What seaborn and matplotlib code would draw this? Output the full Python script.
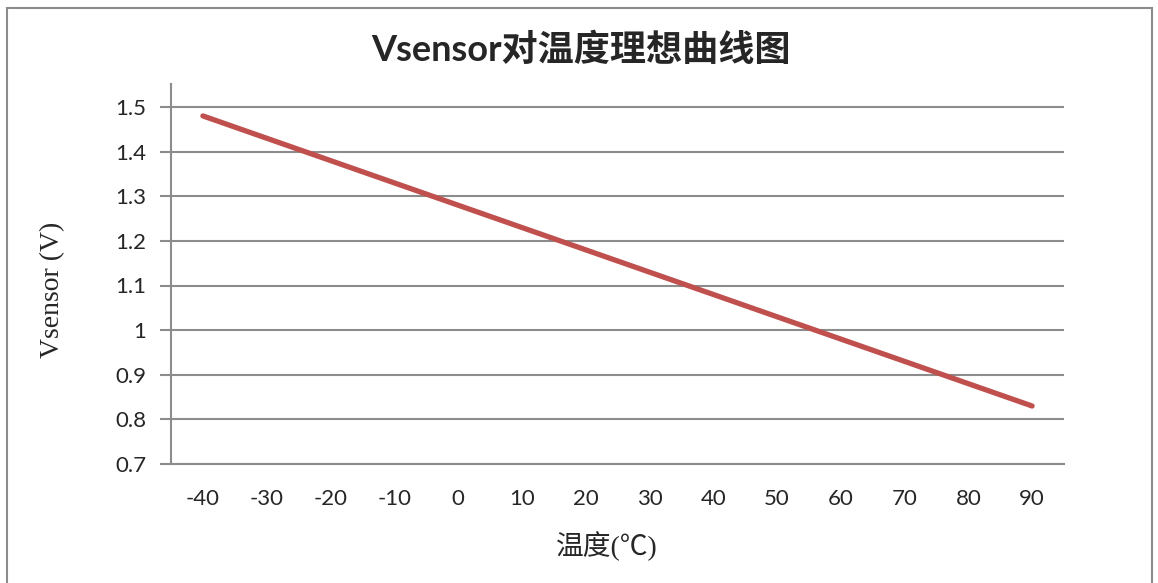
import pandas as pd
import seaborn as sns
import matplotlib.pyplot as plt
from matplotlib.patches import Rectangle
import numpy as np

# temperature categories and ideal sensor voltage
temps = [-40, -30, -20, -10, 0, 10, 20, 30, 40, 50, 60, 70, 80, 90]
vsensor = [1.48, 1.43, 1.38, 1.33, 1.28, 1.23, 1.18, 1.13, 1.08, 1.03, 0.98, 0.93, 0.88, 0.83]
yticks = [0.7, 0.8, 0.9, 1.0, 1.1, 1.2, 1.3, 1.4, 1.5]
ytick_labels = ["0.7", "0.8", "0.9", "1", "1.1", "1.2", "1.3", "1.4", "1.5"]

df = pd.DataFrame({"temp": [str(t) for t in temps], "v": vsensor})

sns.set_style("white")
plt.rcParams['font.family'] = ['Lato', 'Noto Sans CJK SC', 'DejaVu Sans']

grey = "#8c8c8c"

fig = plt.figure(figsize=(11.58, 5.83), dpi=100)
ax = fig.add_axes([171/1158, 1 - 464/583, (1064-171)/1158, (464-84)/583])

sns.lineplot(data=df, x="temp", y="v", color="#C0504D", linewidth=3.8,
             solid_capstyle="round", ax=ax, sort=False)

ax.set_xlim(-0.5, len(temps) - 0.5)
ax.set_ylim(0.7, 0.7 + (464-84) / (464-107) * 0.8)
ax.set_yticks(yticks)
ax.set_yticklabels(ytick_labels)
ax.set_xticks(range(len(temps)))
ax.set_xticklabels([str(t) for t in temps])
ax.set_xticks(np.arange(-0.5, len(temps), 1), minor=True)
ax.tick_params(axis="x", which="major", length=0, pad=18, labelsize=16)
ax.tick_params(axis="x", which="minor", length=7, width=1.5, color=grey, direction="out")
ax.tick_params(axis="y", which="major", length=8, width=1.5, color=grey, direction="out",
               labelsize=16, pad=10, left=True)

ax.yaxis.grid(True, color=grey, linewidth=1.5)
ax.xaxis.grid(False)
for side in ["top", "right"]:
    ax.spines[side].set_visible(False)
for side in ["left", "bottom"]:
    ax.spines[side].set_color(grey)
    ax.spines[side].set_linewidth(1.5)

ax.set_xlabel("温度(℃)", fontsize=20, family=['Liberation Serif', 'Noto Sans CJK SC'])
ax.xaxis.set_label_coords((607 - 171) / (1064 - 171), -(531 - 464) / (464 - 84))
ax.set_ylabel("Vsensor (V)", fontsize=20, family=['Liberation Serif', 'Noto Sans CJK SC'])
ax.yaxis.set_label_coords(-(171 - 65) / (1064 - 171), (464 - 290) / (464 - 84))

fig.text(581/1158, 1 - 50/583, "Vsensor对温度理想曲线图", ha="center", va="center",
         fontsize=26, fontweight="bold")

# outer chart frame
fig.patches.append(Rectangle((7/1158, -0.02), (1152-7)/1158, 1.02 - 8/583,
                             transform=fig.transFigure, fill=False,
                             edgecolor=grey, linewidth=1.5))

fig.savefig("out.png", dpi=100)
plt.close()
